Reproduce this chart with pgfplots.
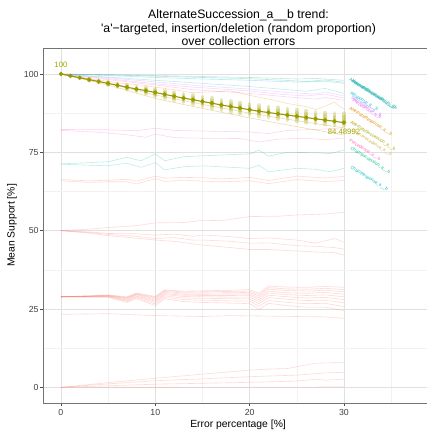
\documentclass[border=0pt]{standalone}
\usepackage{fontspec}
\setmainfont{Liberation Sans}
\usepackage{pgfplots}
\pgfplotsset{compat=1.18}
\definecolor{salmon}{HTML}{F8766D}
\definecolor{oliveC}{HTML}{A3A500}
\definecolor{oliveD}{HTML}{9A9A00}
\definecolor{tanC}{HTML}{D1B24A}
\definecolor{greenC}{HTML}{00BA38}
\definecolor{tealC}{HTML}{00C08B}
\definecolor{cyanC}{HTML}{00BFC4}
\definecolor{blueC}{HTML}{00A5FF}
\definecolor{dteal}{HTML}{1CA3B8}
\definecolor{purpleC}{HTML}{C77CFF}
\definecolor{magC}{HTML}{E76BF3}
\definecolor{pinkC}{HTML}{FF62BC}
\definecolor{orangeC}{HTML}{E58700}
\tikzset{lbl/.style={rotate=-32, anchor=west, inner sep=0pt, font=\fontsize{4.4}{4.4}\selectfont}}
\begin{document}
\begin{tikzpicture}
\useasboundingbox (-43bp,-29bp) rectangle (384bp,403bp);
\begin{axis}[
 at={(0,0)}, anchor=south west, scale only axis, width=384bp, height=355bp,
 xmin=-1.9, xmax=38.8, ymin=-5, ymax=108.3,
 xtick={0,10,20,30}, ytick={0,25,50,75,100},
 minor xtick={5,15,25,35}, minor ytick={12.5,37.5,62.5,87.5},
 grid=both,
 major grid style={color=black!12, line width=0.6bp},
 minor grid style={color=black!5, line width=0.4bp},
 tick pos=left, tick align=outside, major tick length=3bp, minor tick length=0pt,
 tick style={color=black!70, line width=0.5bp},
 axis line style={color=black!55, line width=0.6bp},
 ticklabel style={font=\fontsize{8.8}{10}\selectfont, text=black!75},
 yticklabel style={inner xsep=1.2bp},
 /pgf/number format/assume math mode=true,
 xlabel={Error percentage [\%]}, ylabel={Mean Support [\%]},
 label style={font=\fontsize{10.4}{12}\selectfont},
 xlabel style={at={(axis description cs:0.508,-0.061)}, anchor=center},
 ylabel style={at={(axis description cs:-0.0807,0.5)}, anchor=center},
 clip=false,
 unbounded coords=jump,
 every axis plot/.append style={line width=0.6bp, draw opacity=0.27},
]
% ---- bottom group near 0
\addplot[salmon] coordinates {(0,0)(5,1.5)(10,2.9)(15,4.2)(20,5.5)(22.5,5.9)(24,6.0)(27,7.7)(28,7.8)(30,7.9)};
\addplot[salmon] coordinates {(0,0)(5,1.1)(10,2.1)(15,2.7)(20,3.4)(25,3.9)(28,4.6)(30,4.8)};
\addplot[salmon] coordinates {(0,0)(5,0.5)(10,1.0)(15,1.3)(20,1.6)(25,2.0)(27,2.6)(28,2.3)(30,2.6)};
\addplot[salmon] coordinates {(0,0)(30,0.1)};
% ---- line near 23
\addplot[salmon] coordinates {(0,23.3)(5,23.5)(10,22.9)(15,22.6)(18,22.9)(20,22.8)(25,22.6)(28,22.5)(30,22.0)};
% ---- group near 29
\addplot[salmon] coordinates {(0,28.9)(3,29.2)(5,29.5)(7,28.9)(8,30.1)(10,29.0)(11,31.1)(13,30.7)(15,30.8)(18,31.0)(20,31.2)(21,30.1)(22,32.3)(24,32.0)(26,31.9)(28,32.2)(30,31.9)};
\addplot[salmon] coordinates {(0,28.9)(3,29.2)(5,29.4)(7,28.7)(8,29.9)(10,28.8)(11,30.9)(13,30.4)(15,30.5)(18,30.6)(20,30.7)(21,29.6)(22,31.8)(24,31.4)(26,31.3)(28,31.6)(30,31.2)};
\addplot[salmon] coordinates {(0,28.9)(3,29.1)(5,29.3)(7,28.6)(8,29.8)(10,28.5)(11,30.6)(13,30.1)(15,30.1)(18,30.2)(20,30.3)(21,29.1)(22,31.3)(24,30.9)(26,30.7)(28,31.0)(30,30.5)};
\addplot[salmon] coordinates {(0,28.9)(3,29.1)(5,29.2)(7,28.4)(8,29.6)(10,28.2)(11,30.3)(13,29.7)(15,29.7)(18,29.8)(20,29.8)(21,28.6)(22,30.7)(24,30.2)(26,30.0)(28,30.3)(30,29.7)};
\addplot[salmon] coordinates {(0,28.9)(3,29.0)(5,29.2)(7,28.2)(8,29.4)(10,27.8)(11,29.9)(13,29.4)(15,29.3)(18,29.3)(20,29.4)(21,28.0)(22,30.1)(24,29.6)(26,29.3)(28,29.5)(30,28.9)};
\addplot[salmon] coordinates {(0,28.9)(3,29.0)(5,29.1)(7,27.9)(8,29.1)(10,27.5)(11,29.6)(13,29.0)(15,28.9)(18,28.8)(20,28.8)(21,27.4)(22,29.4)(24,28.9)(26,28.5)(28,28.7)(30,28.0)};
\addplot[salmon] coordinates {(0,28.9)(3,28.9)(5,29.0)(7,27.7)(8,28.9)(10,27.1)(11,29.2)(13,28.5)(15,28.4)(18,28.3)(20,28.2)(21,26.7)(22,28.6)(24,28.1)(26,27.7)(28,27.8)(30,27.0)};
\addplot[salmon] coordinates {(0,28.9)(3,28.9)(5,28.9)(7,27.4)(8,28.6)(10,26.6)(11,28.7)(13,28.0)(15,27.8)(18,27.6)(20,27.5)(21,25.9)(22,27.7)(24,27.1)(26,26.7)(28,26.8)(30,25.8)};
\addplot[salmon] coordinates {(0,28.9)(3,28.8)(5,28.7)(7,27.1)(8,28.3)(10,26.1)(11,28.2)(13,27.4)(15,27.1)(18,26.9)(20,26.7)(21,24.9)(22,26.8)(24,26.1)(26,25.6)(28,25.6)(30,24.5)};
% ---- group near 50
\addplot[salmon] coordinates {(0,50)(3,50.5)(5,51)(8,51.6)(10,52.5)(13,52.6)(15,53.3)(17,53.2)(20,54.5)(23,54.6)(25,55.0)(28,55.3)(30,55.9)};
\addplot[salmon] coordinates {(0,50)(3,49.6)(5,49.1)(8,49.0)(10,48.6)(12,48.9)(14,48.2)(15,48.6)(18,48.1)(20,47.5)(22,47.7)(25,47.0)(27,46.0)(29,47.5)(30,46.3)};
\addplot[salmon] coordinates {(0,50)(3,49.4)(5,48.8)(8,48.2)(10,47.5)(12,47.8)(14,47.0)(15,47.0)(18,46.6)(20,46.0)(22,46.1)(25,45.2)(27,45.0)(29,44.6)(30,44.1)};
\addplot[salmon] coordinates {(0,50)(3,49.2)(5,48.4)(8,47.6)(10,47.0)(12,46.6)(14,45.8)(15,45.4)(18,44.6)(20,44.0)(22,44.0)(25,43.5)(27,43.2)(29,43.0)(30,42.2)};
% ---- group near 66
\addplot[salmon] coordinates {(0,66.3)(3,65.9)(5,66.1)(7,66.4)(8,65.8)(10,67.4)(11,66.8)(13,67.0)(15,66.9)(17,66.5)(20,67.0)(22,66.0)(25,67.4)(28,66.8)(30,67.3)};
\addplot[salmon] coordinates {(0,65.9)(3,65.4)(5,65.6)(7,65.6)(8,64.9)(10,66.6)(11,65.7)(13,66.1)(15,65.8)(17,65.6)(20,65.9)(22,65.0)(25,66.3)(28,65.7)(30,66.0)};
% ---- teal group near 71
\addplot[tealC] coordinates {(0,71.3)(5,72.0)(7,73.4)(8.5,72.3)(10,74.5)(11,72.3)(13,73.6)(15,73.9)(20,74.5)(21,75.7)(22,73.8)(24,75.0)(27,74.9)(28.5,74.6)(30,75.7)};
\addplot[cyanC] coordinates {(0,71.2)(5,70.7)(7,71.5)(8.5,70.2)(10,71.7)(11,69.4)(13,70.4)(15,70.7)(20,69.9)(21,70.9)(22,68.8)(25,69.9)(27,69.6)(28.5,68.8)(30,69.9)};
% ---- pink group near 82
\addplot[pinkC] coordinates {(0,82.3)(5,82.2)(8,81.9)(10,82.7)(12,82.0)(15,81.8)(20,81.5)(22,81.0)(24,82.0)(27,82.3)(30,82.8)};
\addplot[pinkC] coordinates {(0,82.0)(4,81.4)(7,80.6)(9,79.8)(10,80.8)(12,79.7)(15,79.5)(19,79.4)(21,78.3)(23,79.2)(26,79.5)(28,79.0)(30,79.6)};
% ---- top group
\addplot[greenC] coordinates {(0,100)(5,99.7)(10,99.3)(15,98.9)(20,98.5)(25,97.8)(26,97.6)(28,98.1)(30,97.4)};
\addplot[dteal] coordinates {(0,100)(5,99.8)(10,99.5)(15,99.2)(20,98.9)(25,98.4)(27,98.6)(30,98.0)};
\addplot[blueC] coordinates {(0,100)(5,99.5)(10,98.9)(15,98.4)(20,98.0)(25,97.4)(28,97.7)(30,97.0)};
\addplot[cyanC] coordinates {(0,100)(5,99)(10,98)(14,97.2)(20,96)(24,95)(26,94.5)(28,95.4)(30,93.8)};
\addplot[purpleC] coordinates {(0,100)(5,98.8)(10,97.5)(14,96.4)(20,95.2)(24,94.1)(27,93.6)(28,94.3)(30,93.0)};
\addplot[magC] coordinates {(0,100)(5,98.5)(10,96.9)(14,95.8)(20,94.6)(23,93.6)(26,93.0)(28,93.6)(30,92.3)};
\addplot[pinkC] coordinates {(0,100)(5,98.2)(10,96.5)(14,95.0)(20,93.8)(24,92.7)(27,92.0)(28,92.5)(30,91.6)};
\addplot[orangeC] coordinates {(0,100)(3,98.5)(6,97.2)(9,96.3)(10,95.8)(12,95)(14,94)(16,94.3)(18,94.6)(20,93.2)(22,92)(24,90.6)(26,89.6)(27,88.6)(29,91)(30,88.7)};
\addplot[tanC, draw opacity=0.45] coordinates {(0,100)(5,97)(10,93.3)(15,90.3)(20,87.5)(25,85.1)(30,82.8)};
\addplot[tanC, draw opacity=0.45] coordinates {(0,100)(5,96.5)(10,92.2)(15,89.0)(20,86.0)(25,83.2)(30,80.5)};
% ---- olive spread of runs: outer range at each error percentage
\addplot[oliveC, line width=3.6bp, line cap=round, draw opacity=0.28] coordinates {
(3,97.9)(3,98.5)(3,nan) (4,97.15)(4,98.05)(4,nan) (5,96.45)(5,97.55)(5,nan) (6,95.75)(6,97.05)(6,nan)
(7,95.05)(7,96.55)(7,nan) (8,94.35)(8,96.05)(8,nan) (9,93.7)(9,95.7)(9,nan) (10,93.0)(10,95.2)(10,nan)
(11,92.3)(11,94.7)(11,nan) (12,91.6)(12,94.2)(12,nan) (13,90.9)(13,93.7)(13,nan) (14,90.3)(14,93.3)(14,nan)
(15,89.6)(15,92.8)(15,nan) (16,89.0)(16,92.4)(16,nan) (17,88.4)(17,91.8)(17,nan) (18,87.8)(18,91.4)(18,nan)
(19,87.3)(19,90.9)(19,nan) (20,86.9)(20,90.6)(20,nan) (21,86.4)(21,90.1)(21,nan) (22,86.0)(22,89.7)(22,nan)
(23,85.6)(23,89.4)(23,nan) (24,85.2)(24,89.0)(24,nan) (25,84.8)(25,88.6)(25,nan) (26,84.4)(26,88.3)(26,nan)
(27,84.1)(27,87.9)(27,nan) (28,83.8)(28,87.7)(28,nan) (29,83.6)(29,87.5)(29,nan) (30,83.6)(30,87.5)};
% ---- olive spread of runs: inner range
\addplot[oliveC, line width=3.6bp, line cap=round, draw opacity=0.28] coordinates {
(3,98.05)(3,98.35)(3,nan) (4,97.38)(4,97.82)(4,nan) (5,96.72)(5,97.28)(5,nan) (6,96.08)(6,96.72)(6,nan)
(7,95.42)(7,96.18)(7,nan) (8,94.78)(8,95.62)(8,nan) (9,94.2)(9,95.2)(9,nan) (10,93.55)(10,94.65)(10,nan)
(11,92.9)(11,94.1)(11,nan) (12,92.25)(12,93.55)(12,nan) (13,91.6)(13,93.0)(13,nan) (14,91.05)(14,92.55)(14,nan)
(15,90.4)(15,92.0)(15,nan) (16,89.85)(16,91.55)(16,nan) (17,89.25)(17,90.95)(17,nan) (18,88.7)(18,90.5)(18,nan)
(19,88.2)(19,90.0)(19,nan) (20,87.83)(20,89.67)(20,nan) (21,87.33)(21,89.17)(21,nan) (22,86.93)(22,88.77)(22,nan)
(23,86.55)(23,88.45)(23,nan) (24,86.15)(24,88.05)(24,nan) (25,85.75)(25,87.65)(25,nan) (26,85.37)(26,87.33)(26,nan)
(27,85.05)(27,86.95)(27,nan) (28,84.77)(28,86.73)(28,nan) (29,84.57)(29,86.53)(29,nan) (30,84.57)(30,86.53)};
% ---- olive mean line
\addplot[oliveD, line width=1.1bp, draw opacity=1, mark=*, mark size=1.6bp, mark options={fill=oliveD, draw=none}] coordinates {
(0,100)(1,99.4)(2,98.8)(3,98.2)(4,97.6)(5,97.0)(6,96.4)(7,95.8)(8,95.2)(9,94.7)(10,94.1)
(11,93.5)(12,92.9)(13,92.3)(14,91.8)(15,91.2)(16,90.7)(17,90.1)(18,89.6)(19,89.1)(20,88.6)
(21,88.1)(22,87.7)(23,87.3)(24,86.9)(25,86.5)(26,86.1)(27,85.7)(28,85.3)(29,84.9)(30,84.48992)};
\node[text=oliveC, font=\fontsize{7.8}{8}\selectfont] at (axis cs:0,102.8) {100};
\node[text=oliveC, font=\fontsize{7.8}{8}\selectfont] at (axis cs:30,81.6) {84.48992};
% ---- right labels
\node[lbl, text=dteal] at (axis cs:30.6,98.2) {AlternateSuccession\_a\_\_b};
\node[lbl, text=greenC, opacity=0.8] at (axis cs:30.8,98.0) {AlternateSuccession\_a\_\_b};
\node[lbl, text=blueC, opacity=0.8] at (axis cs:30.9,97.6) {AlternateSuccession\_a\_\_b};
\node[lbl, text=cyanC] at (axis cs:30.7,93.9) {Response\_a\_\_b};
\node[lbl, text=purpleC] at (axis cs:30.8,92.6) {Succession\_a\_\_b};
\node[lbl, text=magC] at (axis cs:30.9,91.6) {Precedence\_a\_b};
\node[lbl, text=orangeC] at (axis cs:30.6,89.1) {AlternateResponse\_a\_\_b};
\node[lbl, text=oliveC] at (axis cs:30.7,84.7) {AlternateSuccession\_a\_\_b};
\node[lbl, text=tanC] at (axis cs:30.8,82.1) {ChainPrecedence\_a\_\_b};
\node[lbl, text=pinkC] at (axis cs:30.6,78.8) {Precedence\_a\_\_b};
\node[lbl, text=tealC] at (axis cs:30.7,76.4) {ChainSuccession\_a\_\_b};
\node[lbl, text=cyanC] at (axis cs:30.7,70.3) {ChainResponse\_a\_\_b};
\end{axis}
\begin{scope}[every node/.style={anchor=base, inner sep=0pt, font=\fontsize{12.3}{13}\selectfont}]
\node at (195.5bp,384.5bp) {AlternateSuccession\_a\_\_b trend:};
\node at (195.5bp,370.7bp) {\textquotesingle a\textquotesingle −targeted, insertion/deletion (random proportion)};
\node at (195.5bp,357.3bp) {over collection errors};
\end{scope}
\end{tikzpicture}
\end{document}
